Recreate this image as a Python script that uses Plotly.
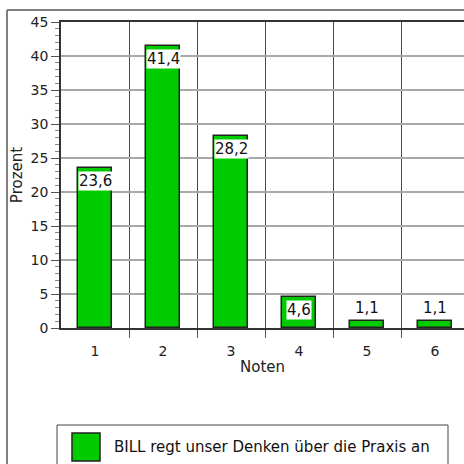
import plotly.graph_objects as go

noten = [1, 2, 3, 4, 5, 6]
prozent = [23.6, 41.4, 28.2, 4.6, 1.1, 1.1]
serie = "BILL regt unser Denken über die Praxis an"
y_ticks = [0, 5, 10, 15, 20, 25, 30, 35, 40, 45]

GRUEN = "#00cc00"
FONT = "DejaVu Sans, Arial, sans-serif"

# pixel-layout of the plot area in the 464x464 window
L, T, B = 61, 22, 136
W_PLOT, H_PLOT = 464 - L, 464 - T - B


def px(x):
    return (x - L) / W_PLOT


def py(y):
    return (464 - B - y) / H_PLOT


fig = go.Figure()
fig.add_trace(go.Bar(
    x=noten, y=prozent, width=0.5,
    marker=dict(color=GRUEN, line=dict(color="#222222", width=1.5)),
    showlegend=False, hoverinfo="skip",
))

# Werte-Beschriftung: in weißer Box oben im Balken, bei kleinen Werten darüber
for n, v in zip(noten, prozent):
    innen = v > 3
    fig.add_annotation(
        x=n, y=v, text=f"{v:.1f}".replace(".", ","), showarrow=False,
        yanchor="top" if innen else "bottom",
        yshift=-3 if innen else 3,
        bgcolor="white" if innen else "rgba(0,0,0,0)",
        borderpad=0,
        font=dict(family=FONT, size=15, color="#111111"),
    )

fig.update_layout(
    width=464, height=464,
    margin=dict(l=L, r=0, t=T, b=B),
    plot_bgcolor="white", paper_bgcolor="white",
    font=dict(family=FONT, size=14, color="#222222"),
    bargap=0,
    xaxis=dict(
        range=[0.5, 0.5 + W_PLOT / 68], tickvals=noten,
        ticks="outside", ticklen=9, tickcolor="rgba(0,0,0,0)",
        showgrid=False, zeroline=False,
        showline=True, mirror=True, linecolor="#333333", linewidth=1.5,
        minor=dict(tickvals=[1.5, 2.5, 3.5, 4.5, 5.5], ticks="outside", ticklen=8,
                   tickcolor="#555555", showgrid=True, gridcolor="#4a4a4a", gridwidth=1),
        title=dict(text="Noten", standoff=4, font=dict(size=15)),
        fixedrange=True,
    ),
    yaxis=dict(
        range=[0, 45], tickvals=y_ticks,
        ticks="outside", ticklen=8, tickcolor="#555555",
        showgrid=True, gridcolor="#a8a8a8", gridwidth=1.5,
        zeroline=False,
        showline=True, linecolor="#333333", linewidth=1.5,
        minor=dict(dtick=1, ticks="outside", ticklen=4, tickcolor="#888888", showgrid=False),
        title=dict(text="Prozent", standoff=4, font=dict(size=15)),
        fixedrange=True,
    ),
)

# äußerer Rahmen
fig.add_shape(type="line", xref="paper", yref="paper",
              x0=px(7), x1=px(470), y0=py(10), y1=py(10),
              line=dict(color="#808080", width=2))
fig.add_shape(type="line", xref="paper", yref="paper",
              x0=px(7), x1=px(7), y0=py(10), y1=py(470),
              line=dict(color="#808080", width=2))

# Legende
fig.add_shape(type="rect", xref="paper", yref="paper",
              x0=px(57), x1=px(448), y0=py(425), y1=py(475),
              line=dict(color="#444444", width=1), fillcolor="white")
fig.add_shape(type="rect", xref="paper", yref="paper",
              x0=px(72), x1=px(100), y0=py(433), y1=py(461),
              line=dict(color="#222222", width=1.5), fillcolor=GRUEN)
fig.add_annotation(xref="paper", yref="paper", x=px(112), y=py(447),
                   xanchor="left", yanchor="middle", showarrow=False,
                   text=serie, font=dict(family=FONT, size=15, color="#111111"))

fig.write_html("out.html", config={"displayModeBar": False},
               post_script="document.body.style.margin='0';")
